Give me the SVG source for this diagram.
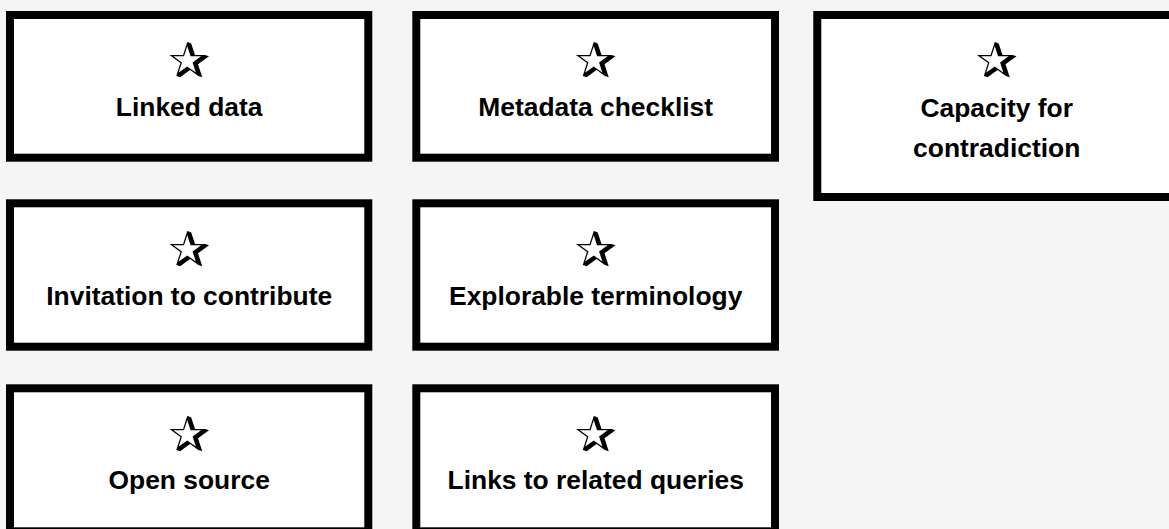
<svg xmlns="http://www.w3.org/2000/svg" width="1169" height="529" viewBox="0 0 1169 529">
<style>
.box{fill:#ffffff;stroke:#000000;stroke-width:8}
.lbl{font-family:"Liberation Sans",Arial,sans-serif;font-weight:bold;font-size:26.4px;fill:#000000;text-anchor:middle}
.star{font-family:"DejaVu Sans",sans-serif;font-size:50px;fill:#000000;text-anchor:middle}
</style>
<rect x="0" y="0" width="1169" height="529" fill="#f5f5f5"/>
<g id="connectors"></g>
<g id="node-linked-data">
<rect class="box" x="10" y="15" width="358.3" height="142.7"/>
<text class="star" x="189.2" y="77.5">✰</text>
<text class="lbl" x="189.2" y="116">Linked data</text>
</g>
<g id="node-metadata-checklist">
<rect class="box" x="416.3" y="15" width="358.7" height="142.7"/>
<text class="star" x="595.7" y="77.5">✰</text>
<text class="lbl" x="595.7" y="116">Metadata checklist</text>
</g>
<g id="node-capacity-for-contradiction">
<rect class="box" x="817.3" y="15" width="358.7" height="182"/>
<text class="star" x="996.7" y="77.5">✰</text>
<text class="lbl" x="996.7" y="117.3">Capacity for</text>
<text class="lbl" x="996.7" y="156.7">contradiction</text>
</g>
<g id="node-invitation-to-contribute">
<rect class="box" x="10" y="203.3" width="358.3" height="143.4"/>
<text class="star" x="189.2" y="266.5">✰</text>
<text class="lbl" x="189.2" y="305">Invitation to contribute</text>
</g>
<g id="node-explorable-terminology">
<rect class="box" x="416.3" y="203.3" width="358.7" height="143.4"/>
<text class="star" x="595.7" y="266.5">✰</text>
<text class="lbl" x="595.7" y="305">Explorable terminology</text>
</g>
<g id="node-open-source">
<rect class="box" x="10" y="388.3" width="358.3" height="143"/>
<text class="star" x="189.2" y="451.5">✰</text>
<text class="lbl" x="189.2" y="489.3">Open source</text>
</g>
<g id="node-links-to-related-queries">
<rect class="box" x="416.3" y="388.3" width="358.7" height="143"/>
<text class="star" x="595.7" y="451.5">✰</text>
<text class="lbl" x="595.7" y="489.3">Links to related queries</text>
</g>
</svg>
